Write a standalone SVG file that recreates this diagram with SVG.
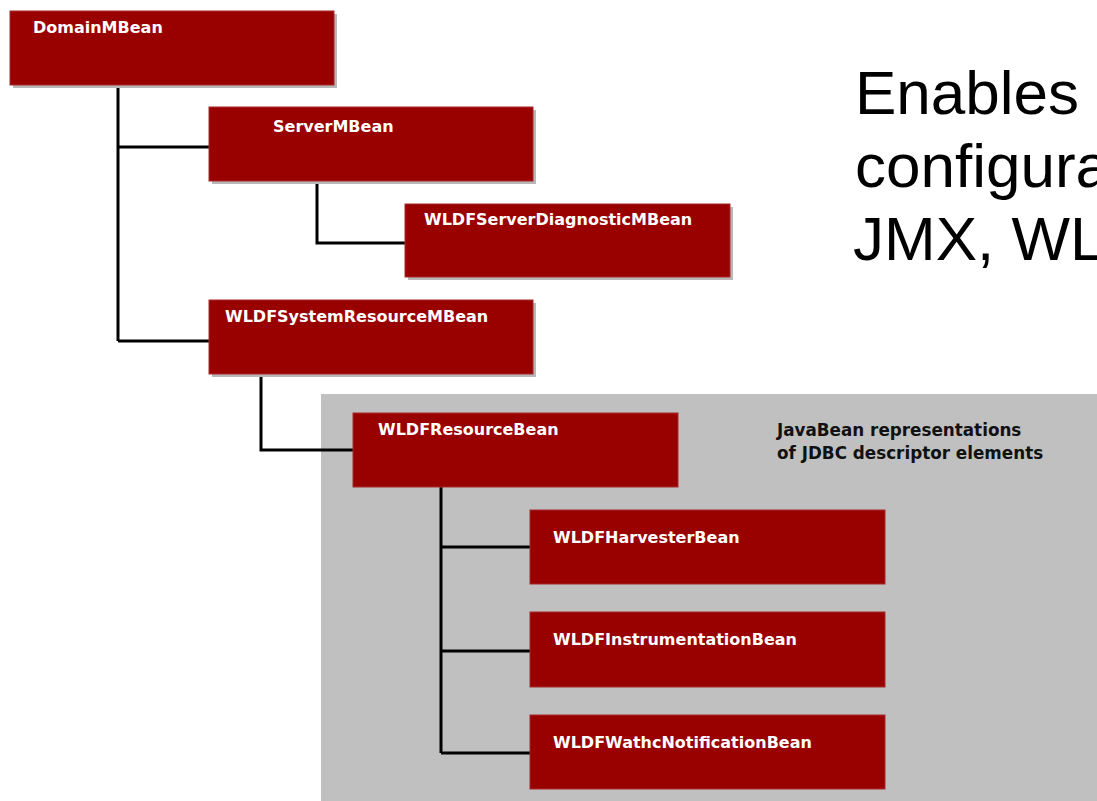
<svg xmlns="http://www.w3.org/2000/svg" width="1097" height="801" viewBox="0 0 1097 801">
<defs>
<style>
.box{fill:#990000;stroke:#a52a2a;stroke-width:1}
.shadow{fill:#b8b8b8}
.lbl{font-family:"DejaVu Sans",Verdana,sans-serif;font-weight:bold;font-size:16px;fill:#ffffff}
.note{font-family:"DejaVu Sans",Verdana,sans-serif;font-weight:bold;font-size:16.8px;fill:#111111}
.big{font-family:"Liberation Sans",Arial,Helvetica,sans-serif;font-size:62px;fill:#000000}
.conn{fill:none;stroke:#000000;stroke-width:3}
</style>
<clipPath id="page"><rect x="0" y="0" width="1097" height="801"/></clipPath>
</defs>
<rect x="0" y="0" width="1097" height="801" fill="#ffffff"/>
<rect id="panel" x="321" y="394" width="776" height="407" fill="#c0c0c0"/>
<g id="connectors">
<path class="conn" d="M118 85 V341 M118 147 H209 M118 341 H209"/>
<path class="conn" d="M317 181 V243 H405"/>
<path class="conn" d="M261 374 V450 H353"/>
<path class="conn" d="M441 487 V753 M441 547 H530 M441 651 H530 M441 753 H530"/>
</g>
<g id="domain">
<rect class="shadow" x="13" y="14" width="324" height="74"/>
<rect class="box" x="10" y="11" width="324" height="74"/>
<text class="lbl" x="33" y="33">DomainMBean</text>
</g>
<g id="server">
<rect class="shadow" x="212" y="110" width="324" height="74"/>
<rect class="box" x="209" y="107" width="324" height="74"/>
<text class="lbl" x="273" y="132">ServerMBean</text>
</g>
<g id="serverDiag">
<rect class="shadow" x="408" y="207" width="325" height="73"/>
<rect class="box" x="405" y="204" width="325" height="73"/>
<text class="lbl" x="424" y="225">WLDFServerDiagnosticMBean</text>
</g>
<g id="sysRes">
<rect class="shadow" x="212" y="303" width="324" height="74"/>
<rect class="box" x="209" y="300" width="324" height="74"/>
<text class="lbl" x="225" y="322">WLDFSystemResourceMBean</text>
</g>
<g id="resBean">
<rect class="box" x="353" y="413" width="325" height="74"/>
<text class="lbl" x="378" y="435">WLDFResourceBean</text>
</g>
<g id="note">
<text class="note" x="777" y="436">JavaBean representations</text>
<text class="note" x="777" y="459">of JDBC descriptor elements</text>
</g>
<g id="harvester">
<rect class="box" x="530" y="510" width="355" height="74"/>
<text class="lbl" x="553" y="543">WLDFHarvesterBean</text>
</g>
<g id="instr">
<rect class="box" x="530" y="612" width="355" height="75"/>
<text class="lbl" x="553" y="645">WLDFInstrumentationBean</text>
</g>
<g id="watch">
<rect class="box" x="530" y="715" width="355" height="74"/>
<text class="lbl" x="553" y="748">WLDFWathcNotificationBean</text>
</g>
<g id="caption" clip-path="url(#page)">
<text class="big" x="855" y="114">Enables</text>
<text class="big" x="855" y="187">configura</text>
<text class="big" x="853" y="260">JMX, WL</text>
</g>
</svg>
